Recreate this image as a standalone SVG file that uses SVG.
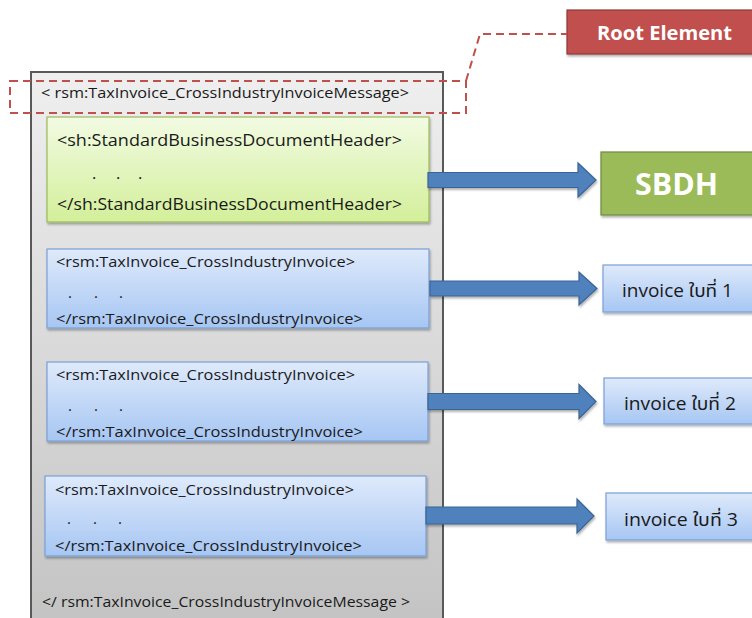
<svg xmlns="http://www.w3.org/2000/svg" width="752" height="618" viewBox="0 0 752 618">
  <defs>
    <linearGradient id="gMsg" x1="0" y1="72" x2="0" y2="618" gradientUnits="userSpaceOnUse">
      <stop offset="0" stop-color="#efefef"/>
      <stop offset="1" stop-color="#c4c4c4"/>
    </linearGradient>
    <linearGradient id="gGreen" x1="0" y1="0" x2="0" y2="1">
      <stop offset="0" stop-color="#f2fbe3"/>
      <stop offset="1" stop-color="#d3ef9a"/>
    </linearGradient>
    <linearGradient id="gBlue" x1="0" y1="0" x2="0" y2="1">
      <stop offset="0" stop-color="#dfeafb"/>
      <stop offset="1" stop-color="#a6c6f3"/>
    </linearGradient>
    <filter id="shadow" x="-5%" y="-10%" width="115%" height="130%">
      <feDropShadow dx="1" dy="2" stdDeviation="1.2" flood-color="#000" flood-opacity="0.3"/>
    </filter>
  </defs>
  <style>
    .mono { font-family: "Open Sans", "Noto Sans", sans-serif; fill: #1a1a1a; }
    .inner { font-size: 15px; }
    .hdr { font-size: 16.5px; }
    .green { fill: url(#gGreen); stroke: #9bbb59; stroke-width: 1.2; }
    .blue { fill: url(#gBlue); stroke: #7ba0d6; stroke-width: 1.2; }
    .arrow { fill: #4f81bd; stroke: #3a6494; stroke-width: 1.2; }
    .label { font-family: "Open Sans", "Noto Sans", "Noto Sans Thai", Tahoma, sans-serif; font-size: 18px; fill: #1a1a1a; }
    .white { font-family: "Open Sans", "Noto Sans", sans-serif; font-weight: bold; fill: #ffffff; }
    .callout { fill: none; stroke: #c0504d; stroke-width: 2; stroke-dasharray: 8 5; }
  </style>

  <!-- outer message element -->
  <g id="message">
    <rect x="31" y="72" width="412" height="560" fill="url(#gMsg)" stroke="#595959" stroke-width="2"/>
    <text class="mono inner" x="41" y="98" textLength="368" lengthAdjust="spacingAndGlyphs">&lt; rsm:TaxInvoice_CrossIndustryInvoiceMessage&gt;</text>
    <text class="mono inner" x="42" y="607" textLength="368" lengthAdjust="spacingAndGlyphs">&lt;/ rsm:TaxInvoice_CrossIndustryInvoiceMessage &gt;</text>
  </g>

  <!-- standard business document header block -->
  <g id="sbdh-block">
    <rect class="green" x="47" y="117" width="382" height="105" filter="url(#shadow)"/>
    <text class="mono hdr" x="57" y="146" textLength="345" lengthAdjust="spacingAndGlyphs">&lt;sh:StandardBusinessDocumentHeader&gt;</text>
    <text class="mono hdr" x="92 116 138" y="179">...</text>
    <text class="mono hdr" x="57" y="210" textLength="345" lengthAdjust="spacingAndGlyphs">&lt;/sh:StandardBusinessDocumentHeader&gt;</text>
  </g>

  <!-- invoice blocks -->
  <g id="invoice-block-1">
    <rect class="blue" x="47" y="249" width="382" height="79" filter="url(#shadow)"/>
    <text class="mono inner" x="56" y="267" textLength="299" lengthAdjust="spacingAndGlyphs">&lt;rsm:TaxInvoice_CrossIndustryInvoice&gt;</text>
    <text class="mono inner" x="68 94 119" y="298">...</text>
    <text class="mono inner" x="56" y="324" textLength="307" lengthAdjust="spacingAndGlyphs">&lt;/rsm:TaxInvoice_CrossIndustryInvoice&gt;</text>
  </g>
  <g id="invoice-block-2">
    <rect class="blue" x="47" y="362" width="381" height="79" filter="url(#shadow)"/>
    <text class="mono inner" x="56" y="380" textLength="299" lengthAdjust="spacingAndGlyphs">&lt;rsm:TaxInvoice_CrossIndustryInvoice&gt;</text>
    <text class="mono inner" x="68 94 119" y="411">...</text>
    <text class="mono inner" x="56" y="437" textLength="307" lengthAdjust="spacingAndGlyphs">&lt;/rsm:TaxInvoice_CrossIndustryInvoice&gt;</text>
  </g>
  <g id="invoice-block-3">
    <rect class="blue" x="45" y="476" width="381" height="80" filter="url(#shadow)"/>
    <text class="mono inner" x="55" y="495" textLength="299" lengthAdjust="spacingAndGlyphs">&lt;rsm:TaxInvoice_CrossIndustryInvoice&gt;</text>
    <text class="mono inner" x="67 93 118" y="524">...</text>
    <text class="mono inner" x="55" y="551" textLength="307" lengthAdjust="spacingAndGlyphs">&lt;/rsm:TaxInvoice_CrossIndustryInvoice&gt;</text>
  </g>

  <!-- root element highlight -->
  <g id="root-highlight">
    <rect class="callout" x="10" y="81" width="456" height="32"/>
  </g>

  <g id="root-element">
    <rect x="567" y="10" width="190" height="44" fill="#c0504d" stroke="#8c3a38" stroke-width="1.2" filter="url(#shadow)"/>
    <text class="white" x="597" y="40" font-size="19" textLength="135" lengthAdjust="spacingAndGlyphs">Root Element</text>
  </g>

  <!-- result boxes -->
  <g id="sbdh">
    <rect x="601" y="152" width="156" height="63" fill="#9bbb59" stroke="#71893f" stroke-width="1.2" filter="url(#shadow)"/>
    <text class="white" x="635" y="195" font-size="31" textLength="83" lengthAdjust="spacingAndGlyphs">SBDH</text>
  </g>
  <g id="invoice-1">
    <rect class="blue" x="603" y="265" width="154" height="47" filter="url(#shadow)"/>
    <text class="label" x="622" y="297" textLength="111" lengthAdjust="spacingAndGlyphs">invoice ใบที่ 1</text>
  </g>
  <g id="invoice-2">
    <rect class="blue" x="604" y="378" width="153" height="46" filter="url(#shadow)"/>
    <text class="label" x="624" y="410" textLength="112" lengthAdjust="spacingAndGlyphs">invoice ใบที่ 2</text>
  </g>
  <g id="invoice-3">
    <rect class="blue" x="606" y="493" width="151" height="47" filter="url(#shadow)"/>
    <text class="label" x="624" y="526" textLength="114" lengthAdjust="spacingAndGlyphs">invoice ใบที่ 3</text>
  </g>

  <!-- connectors -->
  <g id="connectors">
    <polyline class="callout" points="466,81 480,34 567,34"/>
    <polygon class="arrow" filter="url(#shadow)" points="428,172.5 578,172.5 578,163 596,180 578,197 578,187.5 428,187.5"/>
    <polygon class="arrow" filter="url(#shadow)" points="430,281 579,281 579,272 597,288.5 579,305 579,296 430,296"/>
    <polygon class="arrow" filter="url(#shadow)" points="428,393.5 579,393.5 579,384.5 596,401.5 579,418.5 579,409.5 428,409.5"/>
    <polygon class="arrow" filter="url(#shadow)" points="426,507 577,507 577,499 594,516 577,533 577,524 426,524"/>
  </g>
</svg>
